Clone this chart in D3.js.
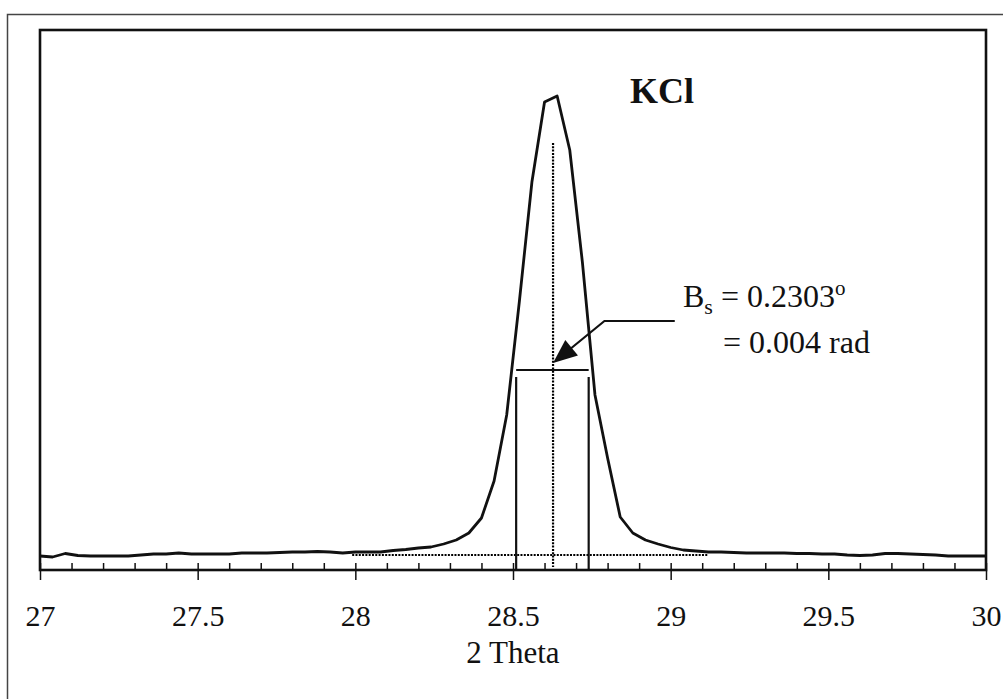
<!DOCTYPE html>
<html>
<head>
<meta charset="utf-8">
<script src="https://cdn.jsdelivr.net/npm/d3@7"></script>
<style>
  html, body { margin: 0; padding: 0; background: #fff; }
  svg { display: block; }
  text { font-family: "Liberation Serif", "Times New Roman", serif; fill: #111; }
</style>
</head>
<body>
<script>
// ---- data (2-theta scan, step 0.04 deg, intensity in arbitrary units) ----
const twoThetaStart = 27;
const twoThetaStep = 0.04;
const intensity = [
  14, 13, 16.5, 14.5, 14, 14, 14, 14, 15, 16,
  16, 17, 16, 16, 16, 16, 17, 17, 17, 17.5,
  18, 18, 18.5, 18, 17, 18, 18, 18, 19.5, 20.5,
  22, 23, 26, 30, 37, 52, 89, 155, 268, 388,
  468, 474, 420, 308, 175, 112, 53, 37, 30, 26,
  22.5, 20, 19, 18, 18, 17.5, 17, 17, 17, 17,
  16.5, 16.5, 16, 16, 15, 14.5, 15, 16.5, 16.5, 16,
  15.5, 15, 14, 14, 14, 14
];
const majorTicks = [27, 27.5, 28, 28.5, 29, 29.5, 30];
const minorTicks = d3.range(0, 31).map(i => +(27 + i * 0.1).toFixed(1));
const xDomain = [27, 30];
const yDomain = [0, 540];

// annotation values
const peakCenter = 28.627;
const fwhmLeft = 28.51;
const fwhmRight = 28.74;
const fwhmLevel = 200;
const fwhmLineTop = 193;
const centerLineTop = 427;
const centerLineBottom = 3;
const baselineLevel = 15;
const baselineFrom = 27.99;
const baselineTo = 29.12;
const arrowTip = [28.627, 207];
const leaderStart = [28.79, 249];
const leaderEnd = [29.013, 249];
const titleText = "KCl";
const xAxisTitle = "2 Theta";
const bsValue = "0.2303";
const radValue = "= 0.004 rad";

const series = intensity.map((v, i) => ({ x: twoThetaStart + i * twoThetaStep, y: v }));

// ---- layout ----
const W = 1005, H = 699;
const pL = 40, pR = 986, pT = 30, pB = 570;
const serif = "Liberation Serif, Times New Roman, serif";

const svg = d3.select("body").append("svg").attr("width", W).attr("height", H);

const x = d3.scaleLinear().domain(xDomain).range([pL, pR]);
const y = d3.scaleLinear().domain(yDomain).range([pB, pT]);

// outer frame (top and left edges visible)
svg.append("path")
  .attr("d", `M7.5,${H} L7.5,14.5 L1003,14.5`)
  .attr("fill", "none").attr("stroke", "#444").attr("stroke-width", 1.5);

// dotted baseline
svg.append("line")
  .attr("x1", x(baselineFrom)).attr("x2", x(baselineTo))
  .attr("y1", y(baselineLevel)).attr("y2", y(baselineLevel))
  .attr("stroke", "#000").attr("stroke-width", 2.2).attr("stroke-dasharray", "2,1.3");

// dotted centre line
svg.append("line")
  .attr("x1", x(peakCenter)).attr("x2", x(peakCenter))
  .attr("y1", y(centerLineTop)).attr("y2", y(centerLineBottom))
  .attr("stroke", "#000").attr("stroke-width", 2.2).attr("stroke-dasharray", "2,1.3");

// FWHM verticals and horizontal
[fwhmLeft, fwhmRight].forEach(v => {
  svg.append("line")
    .attr("x1", x(v)).attr("x2", x(v))
    .attr("y1", y(fwhmLineTop)).attr("y2", y(0))
    .attr("stroke", "#111").attr("stroke-width", 2.2);
});
svg.append("line")
  .attr("x1", x(fwhmLeft)).attr("x2", x(fwhmRight))
  .attr("y1", y(fwhmLevel)).attr("y2", y(fwhmLevel))
  .attr("stroke", "#111").attr("stroke-width", 2.2);

// scan curve
svg.append("path")
  .datum(series)
  .attr("fill", "none").attr("stroke", "#111").attr("stroke-width", 2.8)
  .attr("stroke-linejoin", "round")
  .attr("d", d3.line().x(d => x(d.x)).y(d => y(d.y)));

// arrow leader
const tx = x(arrowTip[0]), ty = y(arrowTip[1]);
const sx = x(leaderStart[0]), sy = y(leaderStart[1]);
svg.append("path")
  .attr("d", `M${x(leaderEnd[0])},${y(leaderEnd[1])} L${sx},${sy} L${tx + (sx - tx) * 0.25},${ty + (sy - ty) * 0.25}`)
  .attr("fill", "none").attr("stroke", "#111").attr("stroke-width", 2.2);
{
  const dx = sx - tx, dy = sy - ty, len = Math.hypot(dx, dy);
  const ux = dx / len, uy = dy / len;
  const hl = 24, hw = 10;
  const bx = tx + ux * hl, by = ty + uy * hl;
  const px = -uy, py = ux;
  svg.append("path")
    .attr("d", `M${tx},${ty} L${bx + px * hw},${by + py * hw} L${bx - px * hw},${by - py * hw} Z`)
    .attr("fill", "#111");
}

// axes: major ticks down with labels, all ticks up
const axisG = svg.append("g").attr("transform", `translate(0,${pB})`);
axisG.call(d3.axisBottom(x).tickValues(majorTicks).tickSize(10).tickPadding(25)
    .tickFormat(d3.format("")))
  .call(g => g.attr("font-family", serif))
  .call(g => g.select(".domain").remove())
  .call(g => g.selectAll("line").attr("stroke", "#111").attr("stroke-width", 1.5))
  .call(g => g.selectAll("text").attr("font-size", 30).attr("fill", "#111")
    .attr("font-family", serif));
const axisUp = svg.append("g").attr("transform", `translate(0,${pB})`);
axisUp.call(d3.axisTop(x).tickValues(minorTicks).tickSize(7).tickFormat(""))
  .call(g => g.select(".domain").remove())
  .call(g => g.selectAll("line").attr("stroke", "#111").attr("stroke-width", 1.5));

// plot frame
svg.append("rect")
  .attr("x", pL).attr("y", pT).attr("width", pR - pL).attr("height", pB - pT)
  .attr("fill", "none").attr("stroke", "#111").attr("stroke-width", 2.6);

// axis title
svg.append("text")
  .attr("x", (pL + pR) / 2).attr("y", 663)
  .attr("text-anchor", "middle").attr("font-size", 31).attr("font-family", serif)
  .text(xAxisTitle);

// KCl label
svg.append("text")
  .attr("x", 630).attr("y", 103).attr("font-family", serif)
  .attr("font-size", 36).attr("font-weight", "bold")
  .text(titleText);

// B_s annotation
const bs = svg.append("text").attr("x", 683).attr("y", 307).attr("font-size", 32).attr("font-family", serif);
bs.append("tspan").text("B");
bs.append("tspan").attr("font-size", 22).attr("dy", 7).text("s");
bs.append("tspan").attr("dy", -7).text(" = " + bsValue);
bs.append("tspan").attr("font-size", 21).attr("dy", -12).text("o");

svg.append("text").attr("x", 723).attr("y", 353).attr("font-size", 32).attr("font-family", serif).text(radValue);
</script>
</body>
</html>
